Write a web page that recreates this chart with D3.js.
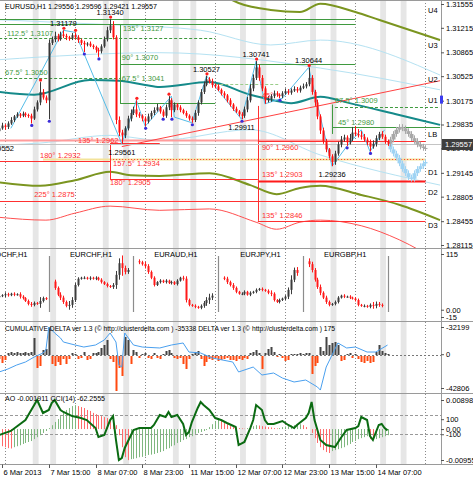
<!DOCTYPE html>
<html>
<head>
<meta charset="utf-8">
<script src="https://cdn.jsdelivr.net/npm/d3@7/dist/d3.min.js"></script>
<style>
body { margin: 0; background: #fff; }
svg text { font-family: "Liberation Sans", Arial, sans-serif; font-size: 7.5px; fill: #000; }
</style>
</head>
<body>
<script>
// ---------- data (prices in pips above 1.2900, one bar per hour) ----------
const base = 1.29;
const openFirst = 74;
const closes = [
  78,82,80,85,90,95,98,96,99,97,
  96,92,105,115,130,122,118,200,205,210,
  205,212,210,208,206,211,208,204,200,198,
  199,196,194,190,188,195,205,218,225,208,
  90,72,68,78,92,100,105,98,96,92,
  88,95,100,104,108,102,96,108,118,104,
  112,108,104,100,96,92,90,100,115,130,
  140,148,145,140,138,133,128,125,118,112,
  106,102,98,96,105,118,135,150,165,150,
  135,118,120,124,128,126,124,128,131,129,
  132,134,132,136,138,141,150,130,115,95,
  75,60,48,38,30,42,55,62,65,58,
  64,72,70,68,66,62,58,52,56,64,
  70,66,60,56];
const wickUp = [
  3,4,2,3,4,2,3,2,3,2, 2,3,4,3,14,4,3,5,4,6, 3,4,6,3,2,3,4,3,2,3,
  2,3,2,2,3,3,4,5,9,6, 3,5,4,3,4,5,4,13,3,2, 3,4,3,4,5,2,3,4,6,3,
  3,2,3,2,3,2,3,4,3,4, 5,5,3,4,2,3,2,3,2,3, 2,3,2,3,4,5,6,5,9,4,
  4,3,4,3,4,3,2,3,4,3, 3,4,3,3,4,3,15,4,3,4, 3,4,3,2,3,4,4,5,4,3,
  6,8,9,7,6,4,3,4,5,4, 3,4,3,2];
const wickDn = [
  3,2,4,3,2,3,2,3,2,3, 3,7,2,3,4,3,4,27,3,4, 3,2,3,4,3,2,3,4,3,11,
  3,2,3,4,8,3,2,3,4,3, 6,5,12,4,3,4,3,4,3,4, 7,3,4,3,2,3,2,3,4,10,
  3,4,3,2,3,3,4,3,4,3, 3,2,3,4,3,2,3,4,3,3, 3,2,3,5,3,4,3,4,3,4,
  4,5,3,4,3,3,3,3,2,3, 3,2,3,3,2,3,3,4,5,4, 5,4,4,3,6,4,3,4,3,5,
  3,4,3,3,4,3,4,7,3,4, 3,3,4,3];
// projected bars after the last one (bar 134 onwards)
const projGray = [62,70,76,80,78,74,70,64,60,55,52,50,50];
const projBlue = [48,42,36,28,20,14,8,6,14,20,24,28,30];

// indicator lines: [bar, pips]
const maTeal = [[0,130],[12,126],[31,147],[41,146],[50,140],[55,137],[72,144],[86,126],[93,119],[100,114],[110,123],[120,114],[137,97],[151,83]];
const bandUpOlive = [[70,285],[82,257],[93,247],[103,244],[110,256],[122,244],[130,233],[151,204]];
const bandDnOlive = [[0,1],[14,-4],[26,4],[38,16],[45,11],[55,10],[72,14],[86,-3],[95,-16],[103,-7],[110,-4],[124,-17],[137,-31],[151,-53]];
const bandDnRed = [[0,-49],[16,-53],[26,-43],[38,-33],[55,-39],[72,-37],[88,-56],[95,-66],[103,-56],[110,-53],[124,-61],[137,-81],[151,-113]];
const cyanA = [[0,233],[38,226],[55,223],[69,218],[93,197],[110,204],[151,154]];
const cyanB = [[0,176],[55,186],[110,164],[151,133]];
const cyanC = [[0,54],[14,57],[38,68],[55,61],[86,76],[110,40],[151,-3]];
const trendRed = [[42,52],[151,146]];
const zigzag = [[4,78],[22,218],[26,215],[42,56],[47,118],[50,81],[59,124],[60,94],[66,86],[71,153],[83,91],[88,174],[91,113],[97,121],[106,165],[114,24],[119,52],[124,76],[127,45],[132,76]];
const fractalHi = [14,22,26,38,47,58,71,88,106];
const fractalLo = [11,17,29,34,50,56,59,66,83,96,119,127];
const swingLabels = [[22,"1.31179",1],[38,"1.31340",1],[42,"1.29561",-1],[71,"1.30527",1],[83,"1.29911",-1],[88,"1.30741",1],[106,"1.30644",1],[114,"1.29236",-1]];

// drawn levels: price, from bar, to bar, colour key, dashed
const levels = [
  [1.3134,0,122,"g",0],[1.3127,0,122,"g",0],[1.3107,0,74,"g",1],[1.3070,41.4,122,"g",0],
  [1.3050,0,41.4,"g",1],[1.3041,74,96,"lg",1],[1.3014,41.4,74,"g",0],[1.3009,115,151,"g",1],
  [1.2980,114,151,"g",0],
  [1.2962,0,118,"pink",0],[1.2932,0,38,"r",0],[1.2934,15,38,"yel",0],[1.2934,38,146,"yel",0],
  [1.2934,38,146,"r",2],[1.2957,38,55,"r",0],[1.2960,88.6,146,"r",0],[1.2905,38,88.6,"r",0],
  [1.2903,88.6,146,"rb",0],[1.2875,0,146,"r",0],[1.2846,88.6,146,"r",0]];
const verticals = [[41.4,1.3127,1.3014,"g"],[114,1.3012,1.2970,"g"],[38,1.2957,1.2905,"r"],[88.6,1.3010,1.2846,"r"]];
const levelText = [
  ["112.5° 1.3107",2.7,1.3107,-2,"g"],["67.5° 1.3050",2,1.3050,-3,"g"],["135° 1.3127",42.4,1.3127,7,"g"],
  ["90° 1.3070",42,1.3070,-4,"g"],["67.5° 1.3041",42,1.3041,-3,"g"],["67.5° 1.3009",115,1.3009,-4,"g"],
  ["45° 1.2980",116,1.2980,-2,"g"],["135° 1.2962",27,1.2962,3,"r"],["180° 1.2932",14,1.2932,-3,"r"],
  ["225° 1.2875",12,1.2875,-4,"r"],["157.5° 1.2934",39,1.2934,7,"r"],["180° 1.2905",38,1.2905,6,"r"],
  ["90° 1.2960",90,1.2960,9,"r"],["135° 1.2903",90,1.2903,-4,"r"],["135° 1.2846",90,1.2846,-3,"r"],
  ["45°",90,1.3021,0,"r"]];
const zoneNames = ["U4","U3","U2","U1","LB","D1","D2","D3"];
const zonePrices = [1.3147,1.3097,1.3049,1.3019,1.2970,1.2916,1.2887,1.2840];
const priceTicks = [1.31555,1.31215,1.30865,1.30525,1.30175,1.29835,1.29495,1.29145,1.28805,1.28455,1.28115];
const lastPrice = 1.29557;

// mini charts: first bar, label, path (open of first candle then closes)
const miniStartBar = [0,19,48,77,106];
const miniSeparators = [17,46,75,104,133];
const miniNames = ["USDCHF,H1","EURCHF,H1","EURAUD,H1","EURJPY,H1","EURGBP,H1"];
const miniPaths = [
  [26,28,30,32,30,33,31,32,27,24,18,12,10,14,12,18,24,22],
  [58,45,31,25,16,8,10,20,51,64,66,66,64,66,64,66,62,57,53,49,47,51,72,96,86,78,82],
  [100,98,94,90,78,66,51,57,60,57,60,55,57,53,60,66,64,20,10,8,6,4,8,14,20,25,29],
  [66,64,57,51,45,37,33,33,37,31,35,37,41,43,41,39,35,33,20,16,20,23,27,41,62,82,76],
  [100,94,82,62,47,35,25,16,10,12,16,25,29,27,27,25,23,20,10,8,8,6,10,8,12,10,8]];
const miniWicks = [
  [3,2,4,3,2,3,2,4,3,2,3,4,3,2,8,3,2],
  [4,3,5,4,3,8,6,4,3,2,3,2,3,2,3,2,3,2,3,2,4,8,10,16,5,4],
  [4,3,5,4,3,3,2,3,2,3,2,3,2,3,2,4,5,3,2,3,2,3,4,6,8,5],
  [3,4,3,4,3,2,3,3,2,3,2,3,2,3,2,3,5,3,2,3,2,3,5,9,5,6],
  [6,5,4,4,5,3,4,3,2,3,3,2,3,2,3,2,3,3,2,3,2,3,6,5,4,3]];
const miniTicks = [[115,"115"],[0,"0.00"],[-15,"-15"]];

// cluster delta (hundreds of contracts) and cumulative delta (thousands)
const delta = [
  -3,-7,-4,2,3,2,3,2,2,3, 2,3,17,-12,-10,5,6,28,-8,-10, -6,-9,-3,-8,-3,2,1,-3,-2,3,
  -4,-3,2,2,3,7,10,15,-3,-6, -35,-12,-20,18,15,-8,5,3,-2,1, 2,-2,-3,2,-2,-3,1,4,5,2,
  -2,-3,-2,-8,-13,-3,1,3,4,-3, -10,-6,-3,-4,-2,-5,-4,-3,-2,-4, -4,-5,-3,-4,-2,-3,2,3,5,2,
  -13,2,6,8,3,-1,1,-2,-5,-4, 1,1,1,2,1,2,2,-18,-10,-7, 8,4,18,10,12,13,10,-5,-4,1,
  2,-2,1,-3,-6,-7,-5,-7,-6,3, 10,4,2,1];
const cumDelta = [[0,-40.02],[3,-39.50],[6,-38.81],[9,-38.29],[12,-37.42],[15,-36.72],[16,-36.20],[17,-32.20],
  [19,-33.24],[21,-34.11],[22,-34.81],[26,-35.33],[29,-35.68],[33,-35.33],[36,-34.46],[38,-33.24],[40,-34.81],
  [41,-38.81],[42,-39.16],[43,-33.24],[46,-35.33],[49,-35.68],[55,-35.85],[59,-35.33],[63,-34.98],[65,-36.55],
  [69,-36.72],[73,-37.59],[80,-38.29],[82,-40.02],[87,-39.16],[90,-40.55],[94,-40.20],[97,-41.07],[101,-41.76],
  [105,-41.42],[109,-42.63],[110,-43.16],[112,-39.16],[116,-34.98],[119,-35.85],[122,-35.68],[126,-36.55],
  [129,-36.55],[133,-35.34]];

// Awesome oscillator (x 1e-4) and CCI(14)
const ao = [
  -46,-53,-56,-59,-60,-56,-53,-50,-46,-43, -40,-37,-31,-25,-19,-12,-6,3,12,22,
  31,40,50,59,65,71,74,71,68,65, 59,56,50,46,43,40,37,34,31,28,
  12,-19,-56,-87,-96,-93,-92,-90,-87,-86, -84,-80,-79,-77,-74,-71,-68,-62,-59,-53,
  -50,-43,-40,-34,-31,-25,-22,-15,-12,-9, -6,-3,6,15,25,31,28,22,15,9,
  6,5,3,2,1,3,6,9,12,11, 9,8,6,5,3,2,3,6,8,9,
  11,12,14,15,12,6,0,-12,-28,-43, -56,-65,-71,-74,-68,-65,-62,-59,-56,-50,
  -46,-40,-37,-31,-28,-25,-22,-31,-34,-31, -28,-25,-22,-19];
const cci = [[0,-111],[4,-68],[9,47],[12,205],[13,258],[15,121],[17,153],[18,226],[19,258],[21,153],[22,132],
  [25,89],[28,68],[30,47],[33,-37],[34,-132],[36,-111],[38,47],[39,89],[40,-163],[41,-374],[42,-353],[43,-247],
  [45,-121],[46,-58],[48,-37],[52,-37],[53,-5],[55,100],[57,79],[58,132],[59,79],[61,100],[63,5],[64,-111],
  [65,-79],[66,26],[68,174],[69,237],[70,205],[72,153],[74,68],[76,47],[78,16],[81,-26],[82,-216],[84,-184],
  [86,-37],[87,47],[88,205],[90,153],[91,47],[92,5],[94,5],[97,37],[99,-5],[101,-37],[102,-5],[105,68],
  [106,121],[107,237],[108,47],[110,-163],[112,-216],[115,-237],[117,-142],[119,-58],[122,-37],[123,-16],
  [124,79],[126,47],[127,-121],[128,-163],[130,-5],[131,5],[132,-37],[133,-62]];

// time axis
const dayStartBars = [2,26,50,74,98,122,146];
const sessionBars = [12,18,36,43,60,66,83,90,107,114,131,138];
const timeLabelBars = [1,17,33,49,65,81,97,113,129];
const timeLabels = ["6 Mar 2013","7 Mar 15:00","8 Mar 07:00","8 Mar 23:00","11 Mar 15:00","12 Mar 07:00","12 Mar 23:00","13 Mar 15:00","14 Mar 07:00"];

// ---------- layout ----------
const W = 473, H = 480, R = 441;
const panels = {main: [0, 248], mini: [249, 321], delta: [322, 393], ao: [394, 464]};
const col = {g: "#3f9a3f", lg: "#9acd8a", r: "#ff3030", rb: "#ff1a1a", pink: "#ff9c9c", yel: "#f3e39a"};

const x = d3.scaleLinear().domain([2, 146]).range([5, 5 + 144 * 2.92]);
const bw = 2.92;
const y = d3.scaleLinear().domain([1.28115, 1.31555]).range([245, 4]);
const yp = v => y(base + v / 1e4);
const yMini = d3.scaleLinear().domain([-15, 115]).range([317, 254]);
const yDelta = d3.scaleLinear().domain([-40, 33]).range([395, 322]);
const yCum = d3.scaleLinear().domain([-42.806, -32.199]).range([388, 327]);
const yAO = d3.scaleLinear().domain([-0.009557, 0.00898]).range([460, 400]);
const yCCI = d3.scaleLinear().domain([-100, 100]).range([434, 415]);

const svg = d3.select("body").append("svg").attr("width", W).attr("height", H);
const defs = svg.append("defs");
const layer = {};
Object.entries(panels).forEach(([k, [t, b]]) => {
  defs.append("clipPath").attr("id", "c-" + k).append("rect")
    .attr("x", 0).attr("y", t).attr("width", R).attr("height", b - t);
  layer[k] = svg.append("g").attr("clip-path", `url(#c-${k})`);
});

// session stripes and day grid
Object.entries(panels).forEach(([k, [t, b]]) => {
  layer[k].selectAll(".ses").data(sessionBars).enter().append("rect")
    .attr("x", d => x(d) - bw / 2).attr("y", t).attr("width", bw * 2).attr("height", b - t)
    .attr("fill", "#e6e6e6");
  layer[k].selectAll(".day").data(dayStartBars).enter().append("line")
    .attr("x1", d => Math.round(x(d)) + 0.5).attr("x2", d => Math.round(x(d)) + 0.5)
    .attr("y1", t).attr("y2", b)
    .attr("stroke", "#8a8a8a").attr("stroke-dasharray", "1,2");
});

// ---------- main panel ----------
const M = layer.main;
const ln = d3.line().x(d => x(d[0])).y(d => yp(d[1]));
const ln2 = d3.line().curve(d3.curveMonotoneX).x(d => x(d[0])).y(d => yp(d[1]));
[[cyanA, "#b5e2f2", 1], [cyanB, "#b5e2f2", 1], [cyanC, "#b5e2f2", 1],
 [bandDnRed, "#ff5050", 1], [bandUpOlive, "#7b9520", 2], [bandDnOlive, "#7b9520", 2],
 [maTeal, "#158a8a", 2]].forEach(([d, c, w]) => {
  M.append("path").attr("d", ln2(d)).attr("fill", "none").attr("stroke", c).attr("stroke-width", w);
});

levels.forEach(([p, a, b, c, dash]) => {
  M.append("line").attr("x1", x(a)).attr("x2", x(b))
    .attr("y1", Math.round(y(p)) + 0.5).attr("y2", Math.round(y(p)) + 0.5)
    .attr("stroke", col[c])
    .attr("stroke-width", c === "rb" || c === "pink" || c === "yel" ? 2 : 1)
    .attr("stroke-dasharray", dash === 1 ? "3,2" : dash === 2 ? "1,2" : null);
});
verticals.forEach(([b, p1, p2, c]) => {
  M.append("line").attr("x1", Math.round(x(b)) + 0.5).attr("x2", Math.round(x(b)) + 0.5)
    .attr("y1", y(p1)).attr("y2", y(p2)).attr("stroke", col[c]);
});
M.append("path").attr("d", ln(trendRed)).attr("fill", "none").attr("stroke", "#ff4040");
// bid line
M.append("line").attr("x1", 0).attr("x2", R).attr("y1", Math.round(y(lastPrice)) + 0.5)
  .attr("y2", Math.round(y(lastPrice)) + 0.5).attr("stroke", "#c4c4c4");

// candles
const bars = closes.map((c, i) => {
  const o = i ? closes[i - 1] : openFirst;
  return {i, o, c, h: Math.max(o, c) + (wickUp[i] || 0), l: Math.min(o, c) - (wickDn[i] || 0)};
});
function candles(g, data, sx, sy, up, dn, bodyW = 2) {
  const k = g.append("g");
  k.selectAll("line").data(data).enter().append("line")
    .attr("x1", d => Math.round(sx(d.i)) + 0.5).attr("x2", d => Math.round(sx(d.i)) + 0.5)
    .attr("y1", d => sy(d.h)).attr("y2", d => sy(d.l))
    .attr("stroke", d => d.c >= d.o ? up : dn);
  k.selectAll("rect").data(data).enter().append("rect")
    .attr("x", d => Math.round(sx(d.i)) + 0.5 - bodyW / 2).attr("width", bodyW)
    .attr("y", d => sy(Math.max(d.o, d.c)))
    .attr("height", d => Math.max(1, Math.abs(sy(d.o) - sy(d.c))))
    .attr("fill", d => d.c >= d.o ? up : dn);
}
const proj = (arr, start) => arr.map((c, j) => {
  const o = j ? arr[j - 1] : start;
  return {i: 134 + j, o, c, h: Math.max(o, c) + 4, l: Math.min(o, c) - 4};
});
candles(M, proj(projBlue, 56), x, yp, "#9fd3f3", "#9fd3f3", 4);
candles(M, proj(projGray, 56), x, yp, "#a8a8a8", "#a8a8a8", 4);

M.append("path").attr("d", ln(zigzag)).attr("fill", "none").attr("stroke", "#55bde8");
candles(M, bars, x, yp, "#383838", "#ff1010");

M.selectAll(".fh").data(fractalHi).enter().append("circle")
  .attr("cx", d => x(d) + 0.5).attr("cy", d => yp(bars[d].h) - 2).attr("r", 1.6).attr("fill", "#ff2020");
M.selectAll(".fl").data(fractalLo).enter().append("circle")
  .attr("cx", d => x(d) + 0.5).attr("cy", d => yp(bars[d].l) + 2).attr("r", 1.6).attr("fill", "#3a2bd8");

swingLabels.forEach(([b, t, s]) => {
  M.append("text").attr("x", x(b)).attr("y", s > 0 ? yp(bars[b].h) - 4 : yp(bars[b].l) + 11)
    .attr("text-anchor", "middle").attr("font-size", "8px").text(t);
});
levelText.forEach(([t, b, p, dy, c]) => {
  M.append("text").attr("x", x(b)).attr("y", y(p) + dy).style("fill", col[c]).text(t);
});
M.append("text").attr("x", 14).attr("y", y(1.29552) + 7).attr("text-anchor", "end").attr("font-size", "8px").text("1.29552");
zoneNames.forEach((n, k) => {
  M.append("text").attr("x", 428).attr("y", y(zonePrices[k]) + 3).attr("font-size", "8px").text(n);
});
M.append("text").attr("x", 5).attr("y", 9)
  .attr("textLength", 152).attr("lengthAdjust", "spacingAndGlyphs")
  .text("EURUSD,H1  1.29556 1.29596 1.29421 1.29557");

// ---------- mini charts ----------
const N = layer.mini;
miniPaths.forEach((path, k) => {
  const data = path.slice(1).map((c, j) => {
    const o = path[j], w = miniWicks[k][j] || 0;
    return {i: miniStartBar[k] + j, o, c, h: Math.max(o, c) + w, l: Math.min(o, c) - w};
  });
  candles(N, data, x, yMini, "#3c3c3c", "#ff1a1a");
  const a = k ? miniSeparators[k - 1] : miniSeparators[0] - 29;
  N.append("text").attr("x", x((a + miniSeparators[k]) / 2)).attr("y", 257)
    .attr("text-anchor", "middle").text(miniNames[k]);
});
N.selectAll(".sep").data(miniSeparators).enter().append("line")
  .attr("x1", d => Math.round(x(d)) + 0.5).attr("x2", d => Math.round(x(d)) + 0.5)
  .attr("y1", 256).attr("y2", 312).attr("stroke", "#8c8c8c").attr("stroke-width", 1.2);

// ---------- delta panel ----------
const D = layer.delta;
D.append("line").attr("x1", 0).attr("x2", R).attr("y1", yDelta(0) + 0.5).attr("y2", yDelta(0) + 0.5)
  .attr("stroke", "#777").attr("stroke-dasharray", "2,2");
D.selectAll(".db").data(delta).enter().append("rect")
  .attr("x", (d, i) => Math.round(x(i)) - 0.5).attr("width", 2)
  .attr("y", d => d >= 0 ? yDelta(d) : yDelta(0) + 1)
  .attr("height", d => Math.abs(yDelta(d) - yDelta(0)))
  .attr("fill", d => d >= 0 ? "#444" : "#ff4a10");
D.append("path").attr("d", d3.line().x(d => x(d[0])).y(d => yCum(d[1]))(cumDelta))
  .attr("fill", "none").attr("stroke", "#4aa0ef");
D.append("text").attr("x", 5).attr("y", 331)
  .attr("textLength", 330).attr("lengthAdjust", "spacingAndGlyphs")
  .text("CUMULATIVE DELTA ver 1.3 (© http://clusterdelta.com ) -35338  DELTA ver 1.3 (© http://clusterdelta.com ) 175");

// ---------- AO / CCI panel ----------
const A = layer.ao;
[100, -100].forEach(v => {
  A.append("line").attr("x1", 0).attr("x2", R).attr("y1", Math.round(yCCI(v)) + 0.5).attr("y2", Math.round(yCCI(v)) + 0.5)
    .attr("stroke", "#999").attr("stroke-dasharray", "3,2");
});
A.selectAll(".ao").data(ao).enter().append("line")
  .attr("x1", (d, i) => Math.round(x(i)) + 0.5).attr("x2", (d, i) => Math.round(x(i)) + 0.5)
  .attr("y1", yAO(0)).attr("y2", d => yAO(d / 1e4))
  .attr("stroke", (d, i) => i && d < ao[i - 1] ? "#ff6a6a" : "#7fb77f");
A.append("path").attr("d", d3.line().x(d => x(d[0])).y(d => yCCI(d[1]))(cci))
  .attr("fill", "none").attr("stroke", "#0b6b12").attr("stroke-width", 2);
A.append("text").attr("x", 5).attr("y", 401)
  .attr("textLength", 100).attr("lengthAdjust", "spacingAndGlyphs")
  .text("AO -0.001911  CCI(14) -62.2555");

// ---------- frames and axes ----------
const fr = svg.append("g").attr("stroke", "#9a9a9a");
[0.5, 248.5, 321.5, 393.5, 464.5].forEach(v => fr.append("line").attr("x1", 0).attr("x2", W).attr("y1", v).attr("y2", v));
fr.append("line").attr("x1", R + 0.5).attr("x2", R + 0.5).attr("y1", 0).attr("y2", 464.5);

function rightAxis(scale, vals, fmt) {
  const g = svg.append("g").attr("transform", `translate(${R},0)`)
    .call(d3.axisRight(scale).tickValues(vals).tickSize(3).tickPadding(2).tickFormat(fmt));
  g.select(".domain").remove();
  g.selectAll("line").attr("stroke", "#555");
  g.selectAll("text").attr("font-family", "Liberation Sans, Arial, sans-serif").attr("font-size", "7.5px").attr("fill", "#000");
  return g;
}
rightAxis(y, priceTicks, d3.format(".5f"));
const py = Math.round(y(lastPrice));
svg.append("rect").attr("x", R + 1).attr("y", py - 5).attr("width", W - R - 1).attr("height", 11).attr("fill", "#3e3e3e");
svg.append("text").attr("x", R + 4).attr("y", py + 3).style("fill", "#fff").attr("font-size", "7.5px").text("1.29557");
svg.append("rect").attr("x", R - 1).attr("y", y(1.3019) - 4).attr("width", 3).attr("height", 8).attr("fill", "#3b3bf0");

rightAxis(yMini, miniTicks.map(d => d[0]), v => miniTicks.find(d => d[0] === v)[1]);
const dTicks = [[-32.199, "-32199"], [-36.93, "0"], [-42.806, "-42806"]];
rightAxis(yCum, dTicks.map(d => d[0]), v => dTicks.find(d => d[0] === v)[1]);
const aTicks = [[0.00898, "0.00898"], [0.00305, "100"], [0, "0.00"], [-0.00160, "-100"], [-0.009557, "-0.009557"]];
rightAxis(yAO, aTicks.map(d => d[0]), v => aTicks.find(d => d[0] === v)[1]);

const xa = svg.append("g");
timeLabelBars.forEach((b, k) => {
  const px = Math.round(x(b)) + 0.5;
  xa.append("line").attr("x1", px).attr("x2", px).attr("y1", 464.5).attr("y2", 468).attr("stroke", "#555");
  xa.append("text").attr("x", px + 1).attr("y", 475).text(timeLabels[k]);
});
</script>
</body>
</html>
